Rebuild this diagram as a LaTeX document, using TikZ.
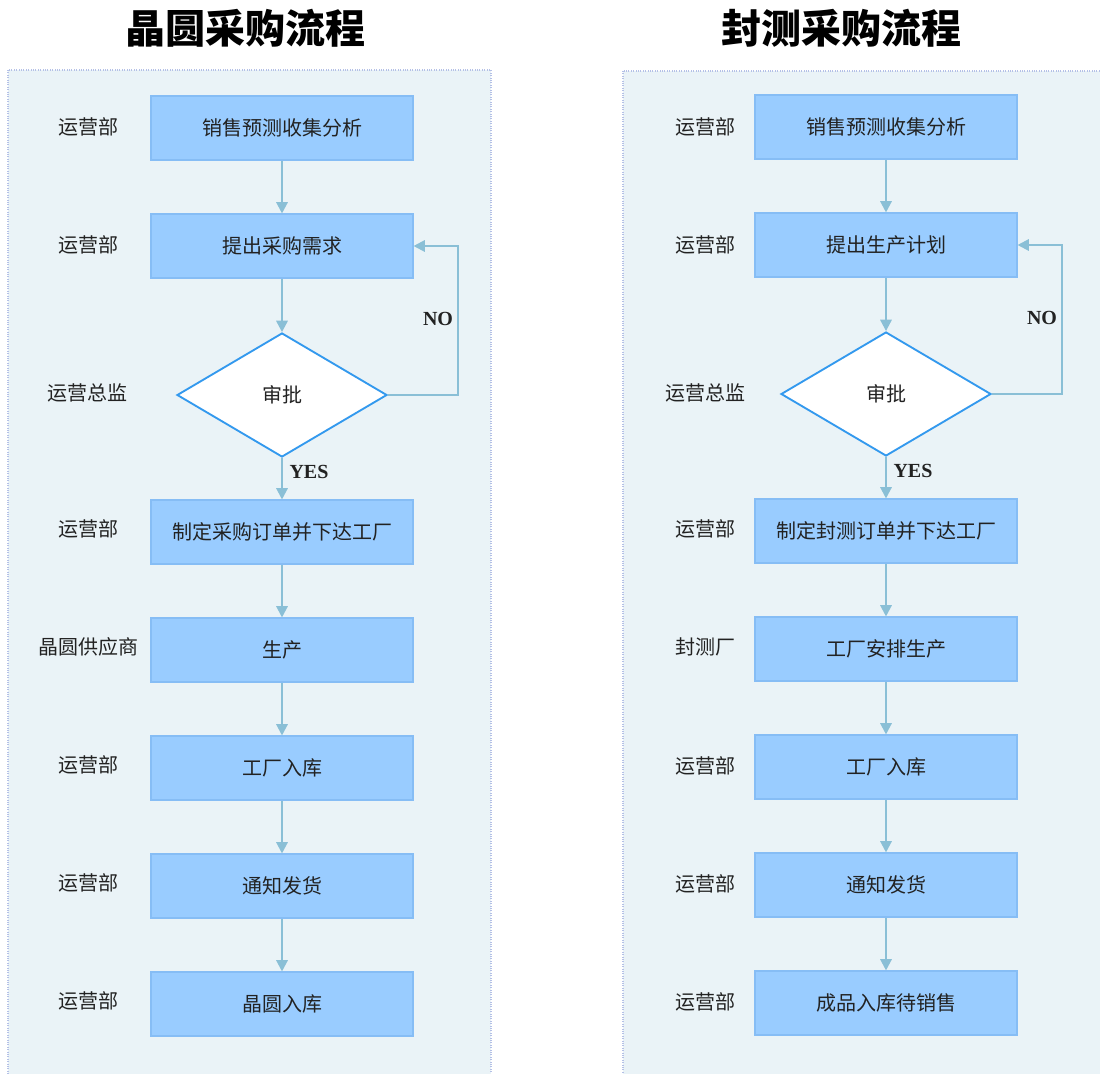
\documentclass[tikz,border=0pt]{standalone}
\usepackage{fontspec}
\setmainfont{Liberation Serif}
\newfontfamily\cjk{Noto Sans CJK SC}
\usetikzlibrary{shapes.geometric,arrows.meta}
\definecolor{panelfill}{HTML}{EAF3F7}
\definecolor{paneldraw}{HTML}{B4C0E6}
\definecolor{boxfill}{HTML}{99CCFF}
\definecolor{boxdraw}{HTML}{86BDF5}
\definecolor{arrowc}{HTML}{8ABFD6}
\definecolor{diadraw}{HTML}{3399EE}
\definecolor{txt}{HTML}{222222}
\tikzset{
  panel/.style={fill=panelfill,draw=paneldraw,densely dotted,line width=0.8pt},
  stepbox/.style={rectangle,fill=boxfill,draw=boxdraw,line width=0.8pt,minimum width=196.5pt,minimum height=48pt,inner sep=0pt,font=\cjk\fontsize{15}{17}\selectfont,text=txt},
  decide/.style={diamond,fill=white,draw=diadraw,line width=1.4pt,minimum width=157.5pt,minimum height=93pt,aspect=1.7,inner sep=0pt,font=\cjk\fontsize{15}{17}\selectfont,text=txt},
  role/.style={font=\cjk\fontsize{15}{17}\selectfont,text=txt,inner sep=0pt},
  flow/.style={draw=arrowc,line width=1.6pt,-{Triangle[length=8.5pt,width=8.5pt]}},
  yn/.style={font=\bfseries\fontsize{15}{17}\selectfont,text=txt,inner sep=0pt},
  ttl/.style={font=\cjk\bfseries\fontsize{30}{34}\selectfont,text=black,inner sep=0pt}
}
\begin{document}
\begin{tikzpicture}[x=0.75pt,y=-0.75pt]
\clip (0,0) rectangle (1100,1074);
\fill[white] (0,0) rectangle (1100,1074);
% titles
\node[ttl] (t1) at (245,28) {晶圆采购流程};
\node[ttl] (t2) at (841,28) {封测采购流程};
% panels
\draw[panel] (8,70) rectangle (491,1100);
\draw[panel] (623,71) rectangle (1120,1100);
% ---------- left ----------
\node[stepbox] (a1) at (282,128) {销售预测收集分析};
\node[stepbox] (a2) at (282,246) {提出采购需求};
\node[decide]  (ad) at (282,395) {审批};
\node[stepbox] (a3) at (282,532) {制定采购订单并下达工厂};
\node[stepbox] (a4) at (282,650) {生产};
\node[stepbox] (a5) at (282,768) {工厂入库};
\node[stepbox] (a6) at (282,886) {通知发货};
\node[stepbox] (a7) at (282,1004) {晶圆入库};
\node[role] (ar1) at (88,127) {运营部};
\node[role] (ar2) at (88,245) {运营部};
\node[role] (ard) at (87,393) {运营总监};
\node[role] (ar3) at (88,529) {运营部};
\node[role] (ar4) at (88,647) {晶圆供应商};
\node[role] (ar5) at (88,765) {运营部};
\node[role] (ar6) at (88,883) {运营部};
\node[role] (ar7) at (88,1001) {运营部};
\draw[flow] (a1) -- (a2);
\draw[flow] (a2) -- (ad);
\draw[flow] (ad) -- (a3);
\draw[flow] (a3) -- (a4);
\draw[flow] (a4) -- (a5);
\draw[flow] (a5) -- (a6);
\draw[flow] (a6) -- (a7);
\draw[flow] (ad.east) -- ++(70,0) coordinate (ac) |- (a2.east);
\node[yn] (ano) at (438,319) {NO};
\node[yn] (ayes) at (309,472) {YES};
% ---------- right ----------
\node[stepbox] (b1) at (886,127) {销售预测收集分析};
\node[stepbox] (b2) at (886,245) {提出生产计划};
\node[decide]  (bd) at (886,394) {审批};
\node[stepbox] (b3) at (886,531) {制定封测订单并下达工厂};
\node[stepbox] (b4) at (886,649) {工厂安排生产};
\node[stepbox] (b5) at (886,767) {工厂入库};
\node[stepbox] (b6) at (886,885) {通知发货};
\node[stepbox] (b7) at (886,1003) {成品入库待销售};
\node[role] (br1) at (705,127) {运营部};
\node[role] (br2) at (705,245) {运营部};
\node[role] (brd) at (705,393) {运营总监};
\node[role] (br3) at (705,529) {运营部};
\node[role] (br4) at (705,647) {封测厂};
\node[role] (br5) at (705,766) {运营部};
\node[role] (br6) at (705,884) {运营部};
\node[role] (br7) at (705,1002) {运营部};
\draw[flow] (b1) -- (b2);
\draw[flow] (b2) -- (bd);
\draw[flow] (bd) -- (b3);
\draw[flow] (b3) -- (b4);
\draw[flow] (b4) -- (b5);
\draw[flow] (b5) -- (b6);
\draw[flow] (b6) -- (b7);
\draw[flow] (bd.east) -- ++(70,0) coordinate (bc) |- (b2.east);
\node[yn] (bno) at (1042,318) {NO};
\node[yn] (byes) at (913,471) {YES};
\end{tikzpicture}
\end{document}
